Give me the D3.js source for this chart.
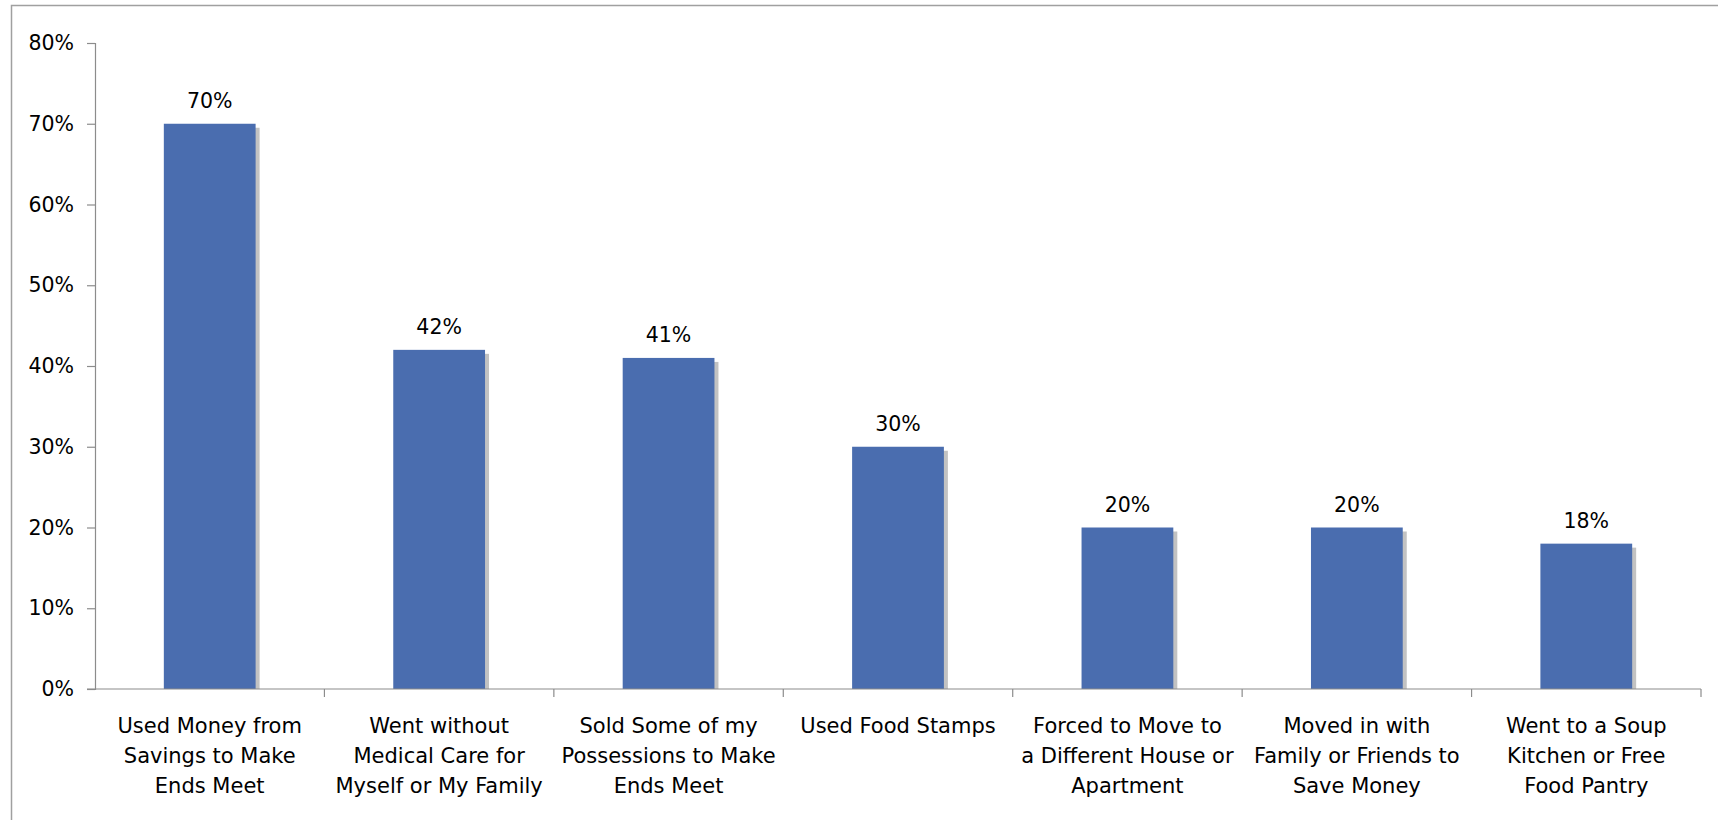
<!DOCTYPE html>
<html>
<head>
<meta charset="utf-8">
<script src="https://cdn.jsdelivr.net/npm/d3@7/dist/d3.min.js"></script>
<style>
  html, body { margin: 0; padding: 0; background: #ffffff; }
  svg { display: block; }
  text { font-family: "DejaVu Sans", sans-serif; fill: #000; }
</style>
</head>
<body>
<svg id="chart" width="1718" height="820"></svg>
<script>
// Survey responses: hardship actions taken
const categories = [
  "Used Money from Savings to Make Ends Meet",
  "Went without Medical Care for Myself or My Family",
  "Sold Some of my Possessions to Make Ends Meet",
  "Used Food Stamps",
  "Forced to Move to a Different House or Apartment",
  "Moved in with Family or Friends to Save Money",
  "Went to a Soup Kitchen or Free Food Pantry"
];
const categoryLines = [
  ["Used Money from", "Savings to Make", "Ends Meet"],
  ["Went without", "Medical Care for", "Myself or My Family"],
  ["Sold Some of my", "Possessions to Make", "Ends Meet"],
  ["Used Food Stamps"],
  ["Forced to Move to", "a Different House or", "Apartment"],
  ["Moved in with", "Family or Friends to", "Save Money"],
  ["Went to a Soup", "Kitchen or Free", "Food Pantry"]
];
const values = [0.70, 0.42, 0.41, 0.30, 0.20, 0.20, 0.18];
const yTicks = [0, 0.1, 0.2, 0.3, 0.4, 0.5, 0.6, 0.7, 0.8];

const svg = d3.select("#chart");
const plotLeft = 95, plotRight = 1701, plotTop = 43, plotBottom = 689;
const axisColor = "#8c8c8c";
const barColor = "#4a6daf";
const shadowColor = "#c2c2c2";
const numberSize = "20.5px";

// outer chart frame (only top and left edges fall inside the view)
svg.append("rect")
  .attr("x", 11.5).attr("y", 5.5)
  .attr("width", 1800).attr("height", 900)
  .attr("fill", "none")
  .attr("stroke", "#a0a0a0")
  .attr("stroke-width", 1.5);

const x = d3.scaleBand()
  .domain(categories)
  .range([plotLeft, plotRight])
  .paddingInner(0.6)
  .paddingOuter(0.3);

const y = d3.scaleLinear()
  .domain([0, 0.8])
  .range([plotBottom, plotTop]);

const pct = d3.format(".0%");

// y axis
const yAxis = svg.append("g")
  .attr("transform", `translate(${plotLeft},0)`)
  .call(d3.axisLeft(y).tickValues(yTicks).tickFormat(pct).tickSize(8).tickPadding(13));
yAxis.select(".domain").attr("stroke", axisColor).attr("stroke-width", 1.2);
yAxis.selectAll(".tick line").attr("stroke", axisColor).attr("stroke-width", 1.2);
yAxis.selectAll(".tick text")
  .style("font-family", "'DejaVu Sans', sans-serif")
  .style("font-size", numberSize)
  .attr("fill", "#000");

// bar shadows
const g = svg.append("g");
g.selectAll("rect.shadow")
  .data(values)
  .join("rect")
  .attr("class", "shadow")
  .attr("x", (d, i) => x(categories[i]) + 4)
  .attr("y", d => y(d) + 4)
  .attr("width", x.bandwidth())
  .attr("height", d => plotBottom - y(d) - 4)
  .attr("fill", shadowColor);

// bars
g.selectAll("rect.bar")
  .data(values)
  .join("rect")
  .attr("class", "bar")
  .attr("x", (d, i) => x(categories[i]))
  .attr("y", d => y(d))
  .attr("width", x.bandwidth())
  .attr("height", d => plotBottom - y(d))
  .attr("fill", barColor);

// value labels
g.selectAll("text.val")
  .data(values)
  .join("text")
  .attr("class", "val")
  .attr("x", (d, i) => x(categories[i]) + x.bandwidth() / 2)
  .attr("y", d => y(d) - 16)
  .attr("text-anchor", "middle")
  .style("font-size", numberSize)
  .text(d => pct(d));

// x axis: category boundaries with tick marks
const xAxisG = svg.append("g");
xAxisG.append("line")
  .attr("x1", plotLeft - 8).attr("x2", plotRight)
  .attr("y1", plotBottom).attr("y2", plotBottom)
  .attr("stroke", axisColor).attr("stroke-width", 1.2);
const step = (plotRight - plotLeft) / categories.length;
xAxisG.selectAll("line.tick")
  .data(d3.range(1, categories.length + 1))
  .join("line")
  .attr("class", "tick")
  .attr("x1", i => plotLeft + i * step).attr("x2", i => plotLeft + i * step)
  .attr("y1", plotBottom).attr("y2", plotBottom + 8)
  .attr("stroke", axisColor).attr("stroke-width", 1.2);

// multi-line category labels
const labels = xAxisG.selectAll("text.cat")
  .data(categoryLines)
  .join("text")
  .attr("class", "cat")
  .attr("text-anchor", "middle")
  .style("font-size", "21px");
labels.each(function(lines, i) {
  const cx = x(categories[i]) + x.bandwidth() / 2;
  d3.select(this).selectAll("tspan")
    .data(lines)
    .join("tspan")
    .attr("x", cx)
    .attr("y", (d, j) => plotBottom + 44 + j * 30)
    .text(d => d);
});
</script>
</body>
</html>
